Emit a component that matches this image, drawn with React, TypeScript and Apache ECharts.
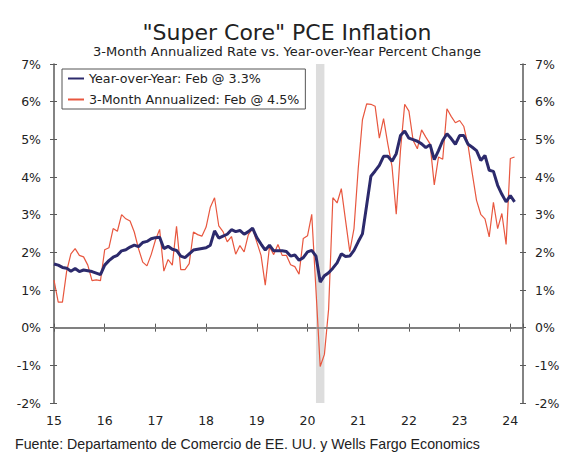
import React, { useEffect, useRef } from "react";
import * as echarts from "echarts";

// Monthly data, Jan 2015 .. Feb 2024
const startYear = 2015;
const axisEnd = "2024-04";
const recessionStart = "2020-03";
const recessionEnd = "2020-05";

const yoyName = "Year-over-Year: Feb @ 3.3%";
const threeMonthName = "3-Month Annualized: Feb @ 4.5%";

const yoy = [
  1.69, 1.66, 1.6, 1.58, 1.5, 1.57, 1.49, 1.53, 1.51, 1.49, 1.45, 1.41,
  1.66, 1.78, 1.87, 1.92, 2.04, 2.07, 2.14, 2.19, 2.15, 2.26, 2.29, 2.36,
  2.39, 2.4, 2.1, 2.16, 2.08, 2.05, 1.9, 1.86, 1.96, 2.06, 2.08, 2.1,
  2.12, 2.19, 2.57, 2.38, 2.43, 2.48, 2.6, 2.55, 2.58, 2.48, 2.55, 2.64,
  2.39, 2.22, 2.06, 2.19, 2.04, 2.04, 2.04, 2.02, 1.9, 1.93, 1.79, 1.86,
  2.01, 2.05, 1.9, 1.21, 1.38, 1.46, 1.58, 1.72, 1.96, 1.89, 1.9, 2.05,
  2.28, 2.49, 3.25, 4.02, 4.16, 4.31, 4.55, 4.55, 4.42, 4.62, 5.1, 5.22,
  5.03, 4.99, 4.95, 4.88, 4.78, 4.86, 4.46, 4.7, 4.97, 5.15, 5.02, 4.87,
  5.1, 5.1, 4.87, 4.79, 4.7, 4.44, 4.57, 4.18, 4.15, 3.78, 3.54, 3.34,
  3.51, 3.34,
];

const threeMonth = [
  1.26, 0.68, 0.68, 1.5, 1.96, 2.1, 1.92, 1.88, 1.66, 1.25, 1.27, 1.25,
  2.07, 2.12, 2.63, 2.56, 3.0, 2.89, 2.83, 2.54, 2.1, 1.74, 1.64, 1.94,
  2.32, 2.61, 1.5, 1.81, 1.66, 2.69, 1.54, 1.54, 1.7, 2.54, 2.47, 2.43,
  2.67, 3.2, 3.45, 2.7, 2.55, 2.28, 2.42, 1.95, 2.18, 2.01, 2.47, 2.63,
  2.27, 1.92, 1.13, 2.15, 1.94, 2.21, 1.92, 1.92, 1.67, 1.62, 1.42, 2.37,
  2.44, 3.01, 1.0, -1.03, -0.71, 0.5, 3.45, 3.31, 3.69, 2.85, 2.02, 2.63,
  4.22, 5.52, 5.94, 5.93, 5.88, 5.03, 5.55, 4.88, 4.28, 3.01, 4.7, 5.93,
  5.75, 4.97, 4.75, 5.25, 5.06, 4.88, 3.79, 4.53, 4.47, 5.81, 5.61, 5.44,
  5.5, 5.34, 4.84, 4.09, 3.38, 3.01, 2.89, 2.41, 3.33, 2.63, 3.03, 2.21,
  4.49, 4.53,
];

const yMin = -2;
const yMax = 7;
const yStep = 1;

const monthIndex = (ym: string) => {
  const [y, m] = ym.split("-").map(Number);
  return (y - startYear) * 12 + (m - 1);
};

const FONT = "DejaVu Sans";
const AXIS_COLOR = "#5a5a5a";
const TEXT_COLOR = "#222";

export default function App() {
  const ref = useRef<HTMLDivElement>(null);

  useEffect(() => {
    document.body.style.margin = "0";
    if (!ref.current) return;
    const chart = echarts.init(ref.current, undefined, { renderer: "svg" });

    const xMax = monthIndex(axisEnd);
    const baseY = {
      type: "value" as const,
      min: yMin,
      max: yMax,
      interval: yStep,
      splitLine: { show: false },
    };
    const baseX = {
      type: "value" as const,
      min: 0,
      max: xMax,
      interval: 12,
      splitLine: { show: false },
      position: "bottom" as const,
    };
    const labelStyle = {
      fontFamily: FONT,
      fontSize: 12.5,
      color: TEXT_COLOR,
    };

    chart.setOption({
      animation: false,
      backgroundColor: "#fff",
      title: [
        {
          text: '"Super Core" PCE Inflation',
          left: "center",
          top: 16,
          textStyle: {
            fontFamily: FONT,
            fontSize: 22,
            fontWeight: "normal",
            color: TEXT_COLOR,
          },
        },
        {
          text: "3-Month Annualized Rate vs. Year-over-Year Percent Change",
          left: "center",
          top: 40,
          textStyle: {
            fontFamily: FONT,
            fontSize: 13,
            fontWeight: "normal",
            color: TEXT_COLOR,
          },
        },
        {
          text: "Fuente: Departamento de Comercio de EE. UU. y Wells Fargo Economics",
          left: 10,
          top: 432,
          textStyle: {
            fontFamily: "Liberation Sans",
            fontSize: 14.2,
            fontWeight: "normal",
            color: TEXT_COLOR,
          },
        },
      ],
      legend: {
        orient: "vertical",
        left: 62,
        top: 69,
        data: [yoyName, threeMonthName],
        itemWidth: 16,
        itemHeight: 14,
        itemGap: 8,
        padding: [3, 6, 3, 5],
        borderColor: "#555",
        borderWidth: 1,
        itemStyle: { opacity: 0 },
        textStyle: { fontFamily: FONT, fontSize: 12.7, color: TEXT_COLOR },
      },
      grid: { left: 54, top: 64, width: 469, height: 339 },
      xAxis: [
        {
          ...baseX,
          axisLine: { show: true, lineStyle: { color: AXIS_COLOR, width: 1.5 } },
          axisTick: { show: true, inside: false, length: 4, lineStyle: { color: AXIS_COLOR } },
          axisLabel: {
            ...labelStyle,
            margin: 11,
            showMaxLabel: false,
            formatter: (v: number) => (v % 12 === 0 ? String((startYear + v / 12) % 100) : ""),
          },
        },
        {
          ...baseX,
          axisLine: { show: false },
          axisTick: { show: true, inside: true, length: 4, lineStyle: { color: AXIS_COLOR } },
          axisLabel: { show: false },
        },
      ],
      yAxis: [
        {
          ...baseY,
          position: "left",
          axisLine: { show: true, lineStyle: { color: AXIS_COLOR, width: 1.5 } },
          axisTick: { show: true, inside: false, length: 4, lineStyle: { color: AXIS_COLOR } },
          axisLabel: { ...labelStyle, margin: 13, formatter: "{value}%" },
        },
        {
          ...baseY,
          position: "left",
          axisLine: { show: false },
          axisTick: { show: true, inside: true, length: 3, lineStyle: { color: AXIS_COLOR } },
          axisLabel: { show: false },
        },
        {
          ...baseY,
          position: "right",
          axisLine: { show: true, lineStyle: { color: AXIS_COLOR, width: 1.5 } },
          axisTick: { show: true, inside: false, length: 3, lineStyle: { color: AXIS_COLOR } },
          axisLabel: { ...labelStyle, margin: 12, formatter: "{value}%" },
        },
        {
          ...baseY,
          position: "right",
          axisLine: { show: false },
          axisTick: { show: true, inside: true, length: 3, lineStyle: { color: AXIS_COLOR } },
          axisLabel: { show: false },
        },
      ],
      series: [
        {
          name: threeMonthName,
          type: "line",
          data: threeMonth.map((v, i) => [i, v]),
          symbol: "none",
          z: 2,
          color: "#E8573F",
          lineStyle: { color: "#E8573F", width: 1.2 },
          markArea: {
            silent: true,
            itemStyle: { color: "#DDDDDD" },
            data: [[{ xAxis: monthIndex(recessionStart) }, { xAxis: monthIndex(recessionEnd) }]],
          },
          markLine: {
            silent: true,
            symbol: "none",
            label: { show: false },
            lineStyle: { color: "#7f7f7f", width: 1.5, type: "solid" },
            data: [{ yAxis: 0 }],
          },
        },
        {
          name: yoyName,
          type: "line",
          data: yoy.map((v, i) => [i, v]),
          symbol: "none",
          z: 3,
          color: "#2C2A6C",
          lineStyle: { color: "#2C2A6C", width: 3 },
        },
      ],
    });

    return () => chart.dispose();
  }, []);

  return <div ref={ref} style={{ width: 574, height: 460 }} />;
}
